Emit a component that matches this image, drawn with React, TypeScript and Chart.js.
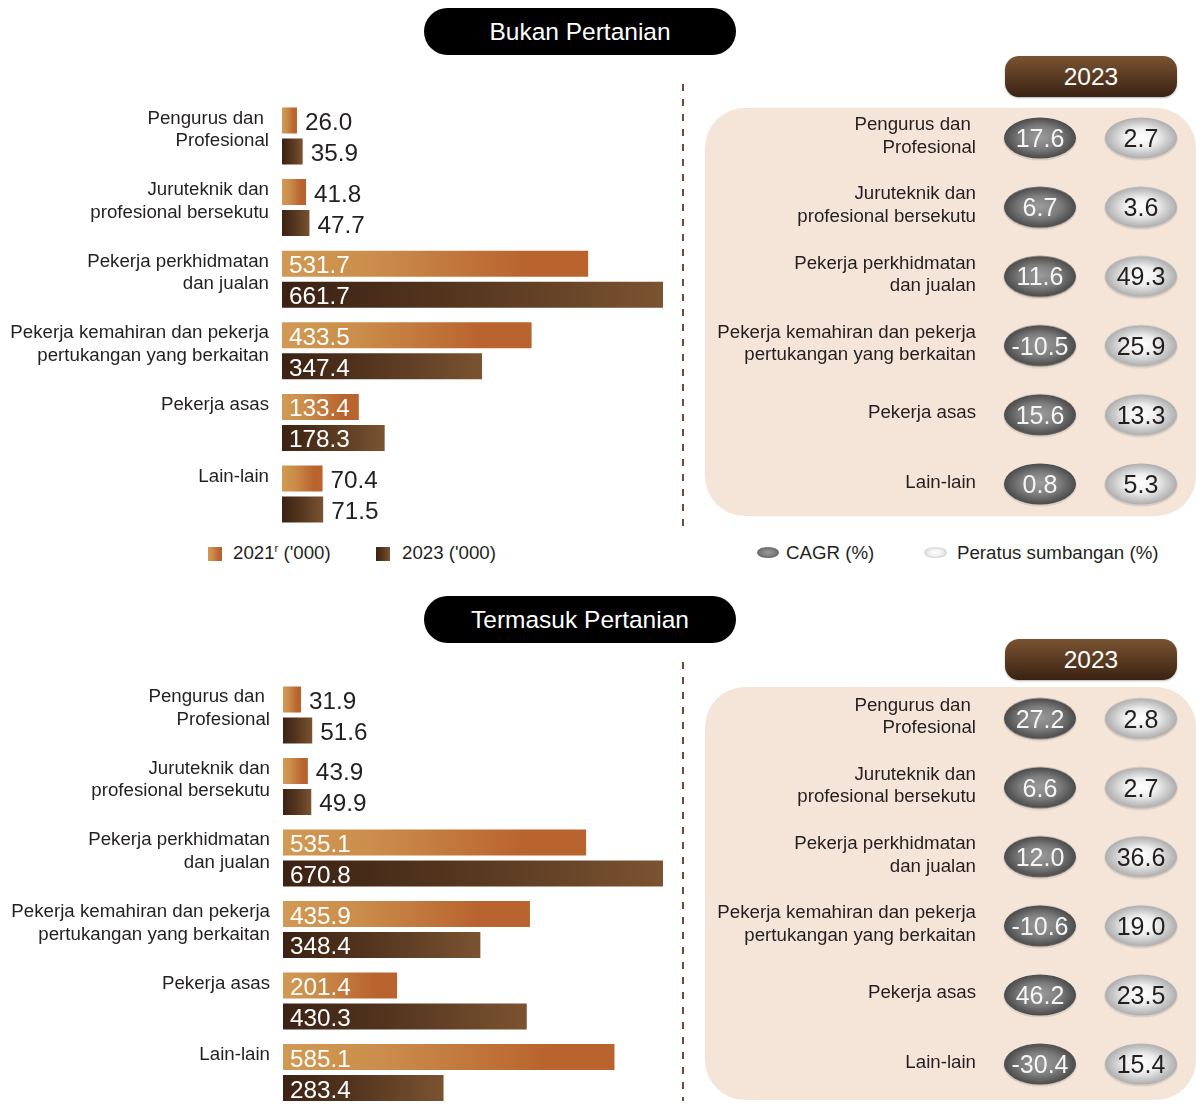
import React, { useEffect, useRef } from 'react';
import { Chart, registerables } from 'chart.js';

Chart.register(...registerables);

const FONT = '"Liberation Sans", Arial, Helvetica, sans-serif';
const INK = '#231F20';
const LABEL_PX = 18.7;

// ---------- data ----------
const categories: string[][] = [
  ['Pengurus dan ', 'Profesional'],
  ['Juruteknik dan', 'profesional bersekutu'],
  ['Pekerja perkhidmatan', 'dan jualan'],
  ['Pekerja kemahiran dan pekerja', 'pertukangan yang berkaitan'],
  ['Pekerja asas'],
  ['Lain-lain'],
];
const sectionTitles = ['Bukan Pertanian', 'Termasuk Pertanian'];
const panelYear = '2023';
const seriesYears = ['2021', '2023'];
const seriesUnit = " ('000)";
const columnLabels = ['CAGR (%)', 'Peratus sumbangan (%)'];

const bukan2021 = [26.0, 41.8, 531.7, 433.5, 133.4, 70.4];
const bukan2023 = [35.9, 47.7, 661.7, 347.4, 178.3, 71.5];
const bukanCagr = [17.6, 6.7, 11.6, -10.5, 15.6, 0.8];
const bukanShare = [2.7, 3.6, 49.3, 25.9, 13.3, 5.3];

const termasuk2021 = [31.9, 43.9, 535.1, 435.9, 201.4, 585.1];
const termasuk2023 = [51.6, 49.9, 670.8, 348.4, 430.3, 283.4];
const termasukCagr = [27.2, 6.6, 12.0, -10.6, 46.2, -30.4];
const termasukShare = [2.8, 2.7, 36.6, 19.0, 23.5, 15.4];

// ---------- styles ----------
const STOPS_2021: [number, string][] = [[0, '#D19A54'], [0.3, '#CB8D4B'], [0.8, '#B9632E'], [1, '#B9632E']];
const STOPS_2023: [number, string][] = [[0, '#3B2214'], [0.5, '#573820'], [1, '#7B5331']];
const CSS_2021 = 'linear-gradient(to right, #D19A54, #CB8D4B 30%, #B9632E 80%)';
const CSS_2023 = 'linear-gradient(to right, #3B2214, #573820 50%, #7B5331)';

function makeEllipse(dark: boolean): HTMLCanvasElement {
  const w = 76, h = 46;
  const c = document.createElement('canvas');
  c.width = w; c.height = h;
  const ctx = c.getContext('2d')!;
  const rx = 36, ry = 20.5;
  ctx.save();
  ctx.fillStyle = 'rgba(0,0,0,0.10)';
  ctx.beginPath();
  ctx.ellipse(w / 2, h / 2 + 1.2, rx + 0.8, ry + 0.8, 0, 0, Math.PI * 2);
  ctx.fill();
  ctx.restore();
  ctx.save();
  ctx.translate(w / 2, h / 2);
  ctx.scale(1, ry / rx);
  const g = ctx.createRadialGradient(0, -2, 0, 0, 0, rx);
  if (dark) {
    g.addColorStop(0, '#9C9C9C');
    g.addColorStop(0.55, '#7D7D7D');
    g.addColorStop(1, '#4A4A4A');
  } else {
    g.addColorStop(0, '#FFFFFF');
    g.addColorStop(0.45, '#EEEEEE');
    g.addColorStop(1, '#ADADAD');
  }
  ctx.fillStyle = g;
  ctx.beginPath();
  ctx.arc(0, 0, rx, 0, Math.PI * 2);
  ctx.fill();
  ctx.restore();
  return c;
}

// ---------- bar chart ----------
function BarCanvas(props: { v2021: number[]; v2023: number[]; top: number; bottom: number; left: number; right: number }) {
  const { v2021, v2023, top, bottom, left, right } = props;
  const ref = useRef<HTMLCanvasElement>(null);
  const W = 680;
  const cTop = Math.floor(top - 10);
  const cH = Math.ceil(bottom + 10) - cTop;
  useEffect(() => {
    const maxV = Math.max(...v2021, ...v2023);
    const grad = (stops: [number, string][]) => (c: any) => {
      const chart = c.chart;
      const xs = chart.scales && chart.scales.x;
      if (!xs || typeof c.raw !== 'number') return stops[0][1];
      const x0 = xs.getPixelForValue(0);
      const x1 = xs.getPixelForValue(c.raw);
      if (!isFinite(x0) || !isFinite(x1)) return stops[0][1];
      const g = chart.ctx.createLinearGradient(x0, 0, Math.max(x1, x0 + 1), 0);
      stops.forEach(([o, col]) => g.addColorStop(o, col));
      return g;
    };
    const labelPlugin = {
      id: 'barLabels',
      afterDatasetsDraw(chart: any) {
        const ctx = chart.ctx as CanvasRenderingContext2D;
        const ys = chart.scales.y;
        ctx.save();
        ctx.textBaseline = 'alphabetic';
        ctx.font = `${LABEL_PX}px ${FONT}`;
        ctx.fillStyle = INK;
        ctx.textAlign = 'right';
        categories.forEach((lines, i) => {
          const c = ys.getPixelForValue(i);
          lines.forEach((ln, k) => ctx.fillText(ln, chart.chartArea.left - 13, c - 12.5 + k * 22.5));
        });
        ctx.font = `24.3px ${FONT}`;
        ctx.textAlign = 'left';
        chart.data.datasets.forEach((ds: any, di: number) => {
          const meta = chart.getDatasetMeta(di);
          meta.data.forEach((bar: any, i: number) => {
            const v = ds.data[i] as number;
            const txt = v.toFixed(1);
            const yb = bar.y + 9.5;
            if (v > 100) {
              ctx.fillStyle = '#FFFFFF';
              ctx.fillText(txt, bar.base + 7, yb);
            } else {
              ctx.fillStyle = INK;
              ctx.fillText(txt, bar.x + 8, yb);
            }
          });
        });
        ctx.restore();
      },
    };
    let chart: any = null;
    try {
      chart = new Chart(ref.current!, {
        type: 'bar',
        data: {
          labels: categories.map((c) => c.join(' ')),
          datasets: [
            { label: seriesYears[0], data: v2021, backgroundColor: grad(STOPS_2021) as any, borderWidth: 0, categoryPercentage: 0.866, barPercentage: 0.839 },
            { label: seriesYears[1], data: v2023, backgroundColor: grad(STOPS_2023) as any, borderWidth: 0, categoryPercentage: 0.866, barPercentage: 0.839 },
          ],
        },
        options: {
          indexAxis: 'y',
          animation: false,
          responsive: false,
          maintainAspectRatio: false,
          events: [],
          layout: { autoPadding: false, padding: { left, right: W - right, top: top - cTop, bottom: cTop + cH - bottom } },
          scales: {
            x: { display: false, min: 0, max: maxV },
            y: { display: false },
          },
          plugins: { legend: { display: false }, tooltip: { enabled: false } },
        },
        plugins: [labelPlugin],
      } as any);
      chart.update();
    } catch (e) {
      console.error(e);
    }
    return () => { if (chart) chart.destroy(); };
  }, []);
  return <canvas ref={ref} width={W} height={cH} style={{ position: 'absolute', left: 0, top: cTop, width: W, height: cH }} />;
}

// ---------- ellipse table chart ----------
function DotCanvas(props: { cagr: number[]; share: number[]; top: number; bottom: number }) {
  const { cagr, share, top, bottom } = props;
  const ref = useRef<HTMLCanvasElement>(null);
  const L = 700, W = 496;
  const cTop = Math.floor(top - 12);
  const cH = Math.ceil(bottom + 12) - cTop;
  const areaLeft = 989.5, areaRight = 1191.5;
  useEffect(() => {
    const darkImg = makeEllipse(true);
    const lightImg = makeEllipse(false);
    const textPlugin = {
      id: 'dotText',
      afterDatasetsDraw(chart: any) {
        const ctx = chart.ctx as CanvasRenderingContext2D;
        const ys = chart.scales.y;
        ctx.save();
        ctx.textBaseline = 'alphabetic';
        ctx.font = `${LABEL_PX}px ${FONT}`;
        ctx.fillStyle = INK;
        ctx.textAlign = 'right';
        categories.forEach((lines, i) => {
          const c = ys.getPixelForValue(i);
          const n = lines.length;
          lines.forEach((ln, k) => ctx.fillText(ln, chart.chartArea.left - 13.5, c + 3.5 + (k - (n - 1) / 2) * 22.5));
        });
        ctx.font = `25px ${FONT}`;
        ctx.textAlign = 'center';
        chart.data.datasets.forEach((ds: any, di: number) => {
          const vals = di === 0 ? cagr : share;
          const meta = chart.getDatasetMeta(di);
          meta.data.forEach((pt: any, i: number) => {
            ctx.fillStyle = di === 0 ? '#F5F5F5' : INK;
            ctx.fillText(vals[i].toFixed(1), pt.x, pt.y + 9);
          });
        });
        ctx.restore();
      },
    };
    let chart: any = null;
    try {
      chart = new Chart(ref.current!, {
        type: 'scatter',
        data: {
          datasets: [
            { label: columnLabels[0], data: cagr.map((_, i) => ({ x: 0, y: i })), pointStyle: darkImg, pointRadius: 2 },
            { label: columnLabels[1], data: share.map((_, i) => ({ x: 1, y: i })), pointStyle: lightImg, pointRadius: 2 },
          ],
        },
        options: {
          animation: false,
          responsive: false,
          maintainAspectRatio: false,
          events: [],
          layout: { autoPadding: false, padding: { left: areaLeft - L, right: L + W - areaRight, top: top - cTop, bottom: cTop + cH - bottom } },
          scales: {
            x: { type: 'linear', display: false, min: -0.5, max: 1.5 },
            y: { type: 'linear', display: false, min: -0.5, max: categories.length - 0.5, reverse: true },
          },
          plugins: { legend: { display: false }, tooltip: { enabled: false } },
        },
        plugins: [textPlugin],
      } as any);
    } catch (e) {
      console.error(e);
    }
    return () => { if (chart) chart.destroy(); };
  }, []);
  return <canvas ref={ref} width={W} height={cH} style={{ position: 'absolute', left: L, top: cTop, width: W, height: cH }} />;
}

// ---------- section ----------
type Layout = {
  titleTop: number; pillTop: number; dashTop: number; dashBottom: number;
  panelTop: number; panelBottom: number; barTop: number; barBottom: number; barLeft: number;
  dotTop: number; dotBottom: number;
};

function Section(props: { title: string; v2021: number[]; v2023: number[]; cagr: number[]; share: number[]; lay: Layout }) {
  const { title, v2021, v2023, cagr, share, lay } = props;
  return (
    <>
      <div style={{ position: 'absolute', left: 424, top: lay.titleTop, width: 312, height: 47, borderRadius: 24, background: '#000', color: '#fff', fontSize: 24.5, lineHeight: '47px', textAlign: 'center' }}>{title}</div>
      <div style={{ position: 'absolute', left: 682, top: lay.dashTop, width: 2, height: lay.dashBottom - lay.dashTop, background: 'repeating-linear-gradient(to bottom, #6E4B33 0px, #6E4B33 7px, transparent 7px, transparent 15px)' }} />
      <div style={{ position: 'absolute', left: 705, top: lay.panelTop, width: 491, height: lay.panelBottom - lay.panelTop, borderRadius: 40, background: '#F4E5D8' }} />
      <div style={{ position: 'absolute', left: 1005, top: lay.pillTop, width: 172, height: 41, borderRadius: 14, background: 'linear-gradient(to bottom, #7A5432, #3A2213)', color: '#fff', fontSize: 24.5, lineHeight: '41px', textAlign: 'center', boxShadow: '0 1px 2px rgba(0,0,0,0.3)' }}>{panelYear}</div>
      <BarCanvas v2021={v2021} v2023={v2023} top={lay.barTop} bottom={lay.barBottom} left={lay.barLeft} right={663} />
      <DotCanvas cagr={cagr} share={share} top={lay.dotTop} bottom={lay.dotBottom} />
    </>
  );
}

function Legend() {
  const txt: React.CSSProperties = { position: 'absolute', top: 542, fontSize: LABEL_PX, lineHeight: '22px', color: INK, whiteSpace: 'nowrap' };
  return (
    <>
      <div style={{ position: 'absolute', left: 208, top: 547, width: 14, height: 14, background: CSS_2021 }} />
      <div style={{ ...txt, left: 233 }}>{seriesYears[0]}<span style={{ fontSize: 11, position: 'relative', top: -7 }}>r</span>{seriesUnit}</div>
      <div style={{ position: 'absolute', left: 376, top: 547, width: 14, height: 14, background: CSS_2023 }} />
      <div style={{ ...txt, left: 402 }}>{seriesYears[1]}{seriesUnit}</div>
      <div style={{ position: 'absolute', left: 757, top: 547, width: 22, height: 11, borderRadius: '50%', background: 'radial-gradient(ellipse at center, #9A9A9A 0%, #7A7A7A 50%, #4A4A4A 100%)' }} />
      <div style={{ ...txt, left: 786 }}>{columnLabels[0]}</div>
      <div style={{ position: 'absolute', left: 924, top: 547, width: 23, height: 11, borderRadius: '50%', background: 'radial-gradient(ellipse at center, #FFFFFF 0%, #EEEEEE 45%, #B5B5B5 100%)' }} />
      <div style={{ ...txt, left: 957 }}>{columnLabels[1]}</div>
    </>
  );
}

const layout1: Layout = {
  titleTop: 8, pillTop: 56, dashTop: 84, dashBottom: 533, panelTop: 108, panelBottom: 516,
  barTop: 100.2, barBottom: 529.8, barLeft: 282, dotTop: 103.4, dotBottom: 518.6,
};
const layout2: Layout = {
  titleTop: 596, pillTop: 639, dashTop: 662, dashBottom: 1101, panelTop: 687, panelBottom: 1100,
  barTop: 679.2, barBottom: 1108.3, barLeft: 283, dotTop: 684, dotBottom: 1098.6,
};

export default function App() {
  return (
    <div style={{ position: 'absolute', left: 0, top: 0, width: 1196, height: 1106, overflow: 'hidden', background: '#fff', fontFamily: FONT }}>
      <Section title={sectionTitles[0]} v2021={bukan2021} v2023={bukan2023} cagr={bukanCagr} share={bukanShare} lay={layout1} />
      <Legend />
      <Section title={sectionTitles[1]} v2021={termasuk2021} v2023={termasuk2023} cagr={termasukCagr} share={termasukShare} lay={layout2} />
    </div>
  );
}
